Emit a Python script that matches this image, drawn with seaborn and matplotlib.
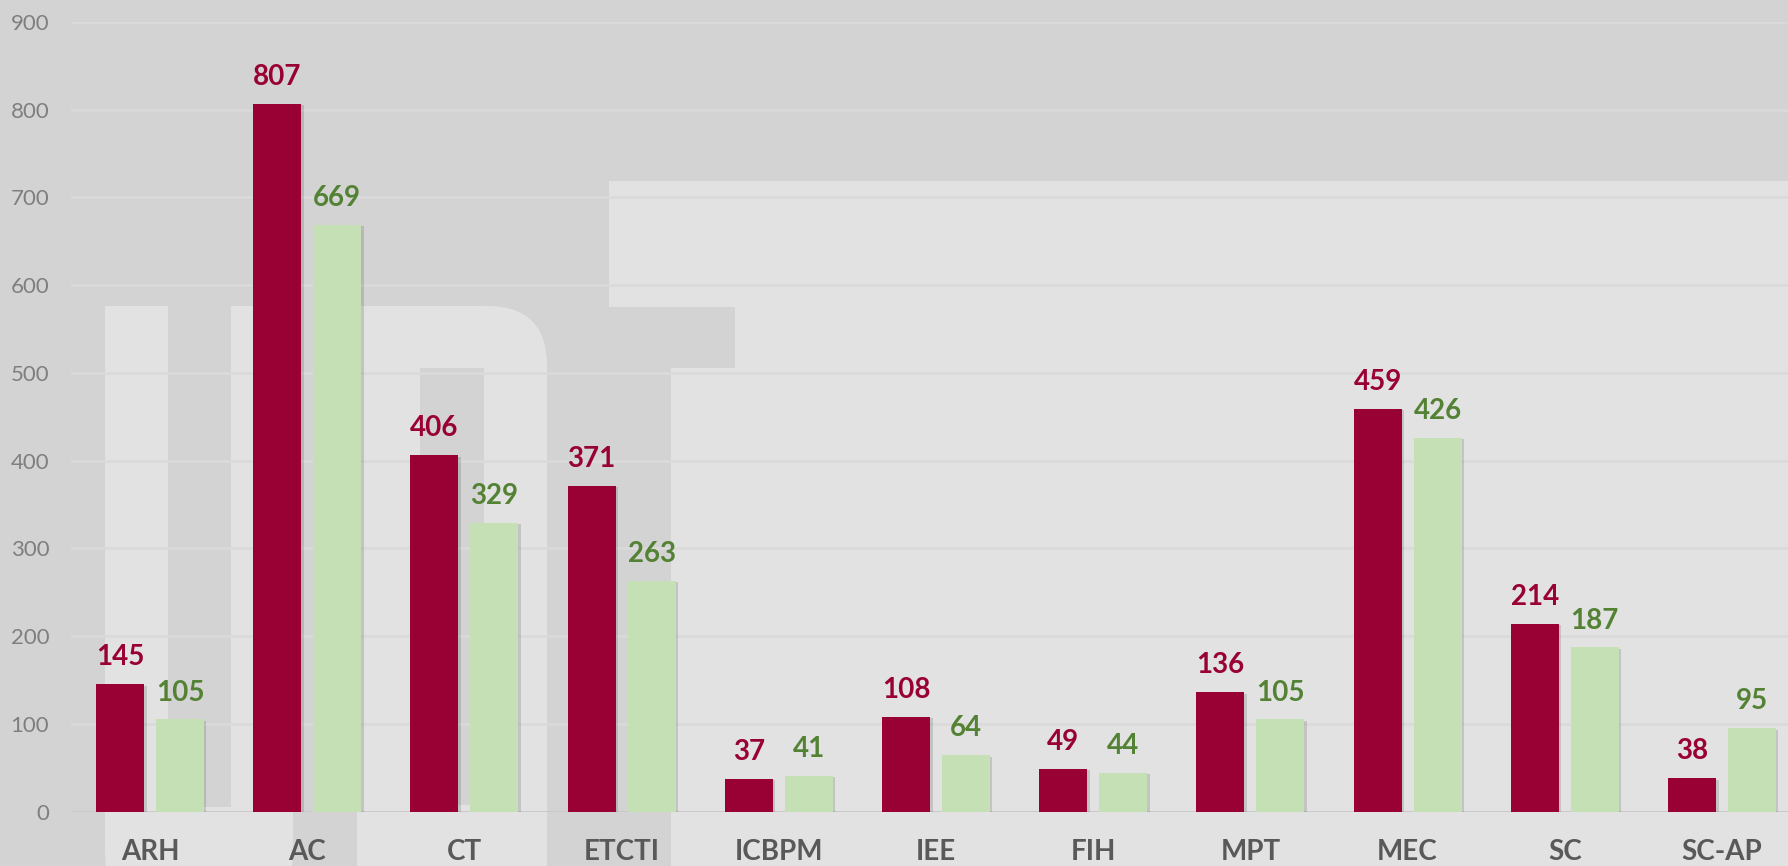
import matplotlib
matplotlib.use("Agg")
import matplotlib.pyplot as plt
import matplotlib.patheffects as pe
from matplotlib.patches import Rectangle, FancyBboxPatch
import seaborn as sns
import pandas as pd

# ---- data ----
categories = ["ARH", "AC", "CT", "ETCTI", "ICBPM", "IEE", "FIH", "MPT", "MEC", "SC", "SC-AP"]
series_names = ["Seria 1", "Seria 2"]
values_red = [145, 807, 406, 371, 37, 108, 49, 136, 459, 214, 38]
values_green = [105, 669, 329, 263, 41, 64, 44, 105, 426, 187, 95]
y_ticks = [0, 100, 200, 300, 400, 500, 600, 700, 800, 900]

RED = "#990033"
GREEN_FILL = "#C5E0B4"
GREEN_TEXT = "#548235"
BG_DARK = "#D3D3D3"
BG_LIGHT = "#E2E2E2"

df = pd.DataFrame({
    "cat": categories * 2,
    "series": [series_names[0]] * len(categories) + [series_names[1]] * len(categories),
    "value": values_red + values_green,
})

sns.set_theme(style="white")
plt.rcParams["font.family"] = ["Lato", "DejaVu Sans"]

W, H = 1788, 866
fig = plt.figure(figsize=(W / 100, H / 100), dpi=100, facecolor=BG_DARK)

# ---- background watermark (decorative) ----
bg = fig.add_axes([0, 0, 1, 1], zorder=-5)
bg.set_xlim(0, W)
bg.set_ylim(H, 0)
bg.axis("off")
bg.set_facecolor(BG_DARK)


def rect(x0, y0, x1, y1, c):
    bg.add_patch(Rectangle((x0, y0), x1 - x0, y1 - y0, facecolor=c, edgecolor="none", lw=0))


def rrect(x0, y0, x1, y1, r, c):
    bg.add_patch(FancyBboxPatch((x0, y0), x1 - x0, y1 - y0,
                                boxstyle=f"round,pad=0,rounding_size={r}",
                                facecolor=c, edgecolor="none", lw=0))

# U
rect(105, 306, 293, 780, BG_LIGHT)
rrect(105, 600, 293, 940, 90, BG_LIGHT)
rect(168, 306, 231, 807, BG_DARK)
# P
rrect(357, 306, 547, 940, 60, BG_LIGHT)
rect(357, 306, 450, 700, BG_LIGHT)
rect(420, 368, 484, 805, BG_DARK)
# T / right block
rect(609, 181, W, 307, BG_LIGHT)
rect(735, 307, W, 368, BG_LIGHT)
rect(671, 368, W, H, BG_LIGHT)

# ---- main axes ----
left = 71.4 / W
right = 1800.6 / W
bottom = (H - 811.5) / H
top = (H - 22.0) / H
ax = fig.add_axes([left, bottom, right - left, top - bottom])
ax.set_facecolor("none")

sns.barplot(data=df, x="cat", y="value", hue="series",
            palette={series_names[0]: RED, series_names[1]: GREEN_FILL},
            width=0.763, gap=0.2, linewidth=0, saturation=1,
            errorbar=None, ax=ax, legend=False, zorder=3)

shadow = [pe.SimplePatchShadow(offset=(1.8, -1.0), shadow_rgbFace="black", alpha=0.13), pe.Normal()]
for p in ax.patches:
    p.set_path_effects(shadow)

label_colors = [RED, GREEN_TEXT]
for cont, col in zip(ax.containers, label_colors):
    ax.bar_label(cont, labels=[f"{int(v)}" for v in cont.datavalues], padding=10,
                 color=col, fontsize=20, fontweight="bold")

ax.set_xlim(-0.5, len(categories) - 0.5)
ax.set_ylim(0, 900)
ax.set_yticks(y_ticks)
ax.set_yticklabels([str(t) for t in y_ticks])
ax.yaxis.grid(True, color="#DADADA", linewidth=1.8, zorder=0)
ax.set_axisbelow(True)
ax.axhline(0, color="#C4C4C4", linewidth=1.8, zorder=2)

for s in ax.spines.values():
    s.set_visible(False)

ax.tick_params(axis="y", length=0, pad=16, labelsize=16, labelcolor="#7F7F7F")
ax.tick_params(axis="x", length=0, pad=20, labelsize=20, labelcolor="#595959")
for t in ax.get_xticklabels():
    t.set_fontweight("bold")
ax.set_xlabel("")
ax.set_ylabel("")

fig.savefig("out.png", dpi=100, facecolor=BG_DARK)
